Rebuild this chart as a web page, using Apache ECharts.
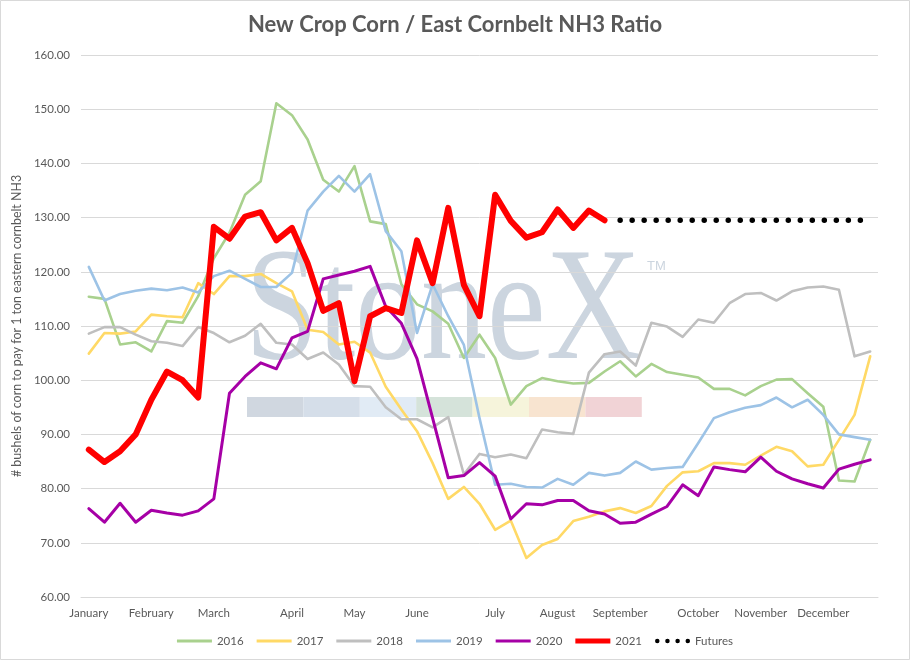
<!DOCTYPE html>
<html>
<head>
<meta charset="utf-8">
<script src="https://cdn.jsdelivr.net/npm/echarts@6/dist/echarts.min.js"></script>
<style>
html,body{margin:0;padding:0;background:#fff;}
#chart{width:910px;height:660px;}
</style>
</head>
<body>
<div id="chart"></div>
<script>
// ---- data (weekly points, 51 per year) ----
const monthLabels = ['January','February','March','April','May','June','July','August','September','October','November','December'];
const monthIndex  = [0, 4, 8, 13, 17, 21, 26, 30, 34, 39, 43, 47];
const weekCount = 51;

const s2016 = [115.4,115.0,106.6,107.0,105.3,110.9,110.6,115.5,122.5,127.2,134.2,136.7,151.1,148.9,144.4,137.0,134.8,139.5,129.3,128.8,117.7,114.0,112.7,110.4,104.1,108.4,104.1,95.5,98.9,100.4,99.8,99.4,99.5,101.6,103.5,100.7,103.0,101.5,101.0,100.5,98.4,98.4,97.2,98.9,100.1,100.2,97.6,95.1,81.5,81.3,89.0];
const s2017 = [104.9,108.7,108.6,109.0,112.1,111.8,111.6,117.9,115.9,119.2,119.2,119.6,117.9,116.4,109.3,108.9,106.6,107.1,105.1,98.8,94.6,90.6,84.7,78.1,80.3,77.2,72.4,74.1,67.2,69.6,70.7,74.0,74.8,75.8,76.4,75.5,76.8,80.5,83.0,83.2,84.7,84.7,84.4,86.1,87.7,86.9,84.1,84.4,89.0,93.6,104.4];
const s2018 = [108.6,109.8,109.8,108.4,107.2,106.9,106.3,109.8,108.7,107.0,108.2,110.4,106.9,106.6,103.9,105.1,102.9,98.9,98.8,95.0,92.8,92.8,91.3,93.2,82.6,86.4,85.8,86.3,85.6,90.9,90.4,90.1,101.4,104.8,105.3,102.7,110.6,109.9,108.0,111.2,110.6,114.2,115.9,116.1,114.7,116.4,117.1,117.3,116.7,104.4,105.3];
const s2019 = [120.9,114.7,115.9,116.5,116.9,116.6,117.1,116.2,119.2,120.2,118.7,117.2,117.2,119.8,131.3,134.8,137.7,134.8,138.0,127.5,123.8,108.7,117.7,111.8,106.5,93.0,80.7,80.9,80.3,80.2,81.8,80.7,82.9,82.4,82.9,85.0,83.5,83.8,84.0,88.4,93.0,94.1,94.9,95.4,96.8,95.0,96.4,93.6,90.0,89.5,89.0];
const s2020 = [76.3,73.8,77.3,73.8,76.0,75.5,75.1,75.9,78.1,97.6,100.7,103.2,102.1,107.8,109.0,118.7,119.4,120.1,121.0,113.6,110.5,104.0,93.0,82.0,82.4,84.8,82.3,74.4,77.2,77.0,77.8,77.8,75.9,75.3,73.6,73.8,75.3,76.7,80.7,78.7,84.0,83.5,83.1,85.8,83.2,81.8,80.9,80.1,83.6,84.5,85.3];
const s2021 = [87.2,84.9,86.9,90.0,96.4,101.6,100.0,96.8,128.3,126.1,130.2,131.0,125.8,128.1,121.6,112.8,114.2,99.8,111.8,113.3,112.4,125.8,117.9,131.8,117.6,111.8,134.2,129.4,126.3,127.3,131.5,128.1,131.3,129.5];
const futuresStart = 34;
const futures = [129.5,129.5,129.5,129.5,129.5,129.5,129.5,129.5,129.5,129.5,129.5,129.5,129.5,129.5,129.5,129.5,129.5];

const yTicks = {min: 60, max: 160, step: 10};

// ---- build ----
const categories = [];
for (let i = 0; i < weekCount; i++) categories.push('');
monthIndex.forEach((ix, k) => { categories[ix] = monthLabels[k]; });
const futuresData = [];
for (let i = 0; i < futuresStart; i++) futuresData.push(null);
futures.forEach(v => futuresData.push(v));

const FONT = 'Lato, "Open Sans", sans-serif';
const TXT = '#595959';

function lineSeries(name, data, color, width, extra) {
  return Object.assign({
    name: name, type: 'line', data: data, symbol: 'none', smooth: false,
    connectNulls: false,
    lineStyle: {color: color, width: width, join: 'round', cap: 'round'},
    itemStyle: {color: color},
    emphasis: {disabled: true},
    animation: false
  }, extra || {});
}

const thinIcon = 'path://M0,0L35,0L35,3L0,3Z';
const thickIcon = 'path://M0,0L35,0L35,5L0,5Z';
const dotsIcon = 'path://M0,2a2,2 0 1,0 4,0a2,2 0 1,0 -4,0Z M9,2a2,2 0 1,0 4,0a2,2 0 1,0 -4,0Z M18,2a2,2 0 1,0 4,0a2,2 0 1,0 -4,0Z M27,2a2,2 0 1,0 4,0a2,2 0 1,0 -4,0Z';

const stripColors = ['#d0d7e0','#d5dee9','#e1ebf5','#d5e3da','#f6f4db','#f8e4d0','#f1d3d6'];
const graphics = [
  {type:'rect', z:-10, shape:{x:0.5,y:0.5,width:909,height:659}, style:{fill:'none', stroke:'#d9d9d9', lineWidth:1}},
  {type:'text', z:-5, x:245, y:316, scaleX:0.82, scaleY:1,
   style:{text:'StoneX', font:'161px "Liberation Serif", "DejaVu Serif", serif', fill:'#ccd5df', verticalAlign:'middle', align:'left'}},
  {type:'text', z:-5, x:647, y:266,
   style:{text:'TM', font:'13px "Liberation Sans", sans-serif', fill:'#ccd5df', verticalAlign:'middle', align:'left'}}
];
stripColors.forEach((c, k) => {
  graphics.push({type:'rect', z:-5, shape:{x:247 + k*56.4, y:397, width:56.4, height:20}, style:{fill:c}});
});

const chart = echarts.init(document.getElementById('chart'), null, {renderer:'canvas'});
chart.setOption({
  backgroundColor: '#ffffff',
  animation: false,
  title: {
    text: 'New Crop Corn / East Cornbelt NH3 Ratio',
    left: 'center', top: 9,
    textStyle: {fontFamily: FONT, fontWeight: 'bold', fontSize: 22, color: TXT}
  },
  graphic: graphics,
  grid: {left: 81, right: 32, top: 55, bottom: 63, containLabel: false},
  xAxis: {
    type: 'category', data: categories, boundaryGap: true,
    axisLine: {show: true, lineStyle: {color: '#d9d9d9', width: 1}},
    axisTick: {show: false},
    axisLabel: {interval: 0, color: TXT, fontFamily: FONT, fontSize: 11.5, margin: 10},
    splitLine: {show: false}
  },
  yAxis: {
    type: 'value', min: yTicks.min, max: yTicks.max, interval: yTicks.step,
    name: '# bushels of corn to pay for 1 ton eastern cornbelt NH3',
    nameLocation: 'middle', nameGap: 46, nameRotate: 90,
    nameTextStyle: {color: TXT, fontFamily: FONT, fontSize: 12.4},
    axisLine: {show: false}, axisTick: {show: false},
    axisLabel: {color: TXT, fontFamily: FONT, fontSize: 11.5, margin: 11, formatter: v => v.toFixed(2)},
    splitLine: {show: true, lineStyle: {color: '#d9d9d9', width: 1}}
  },
  legend: {
    top: 630, left: 'center', itemWidth: 35, itemHeight: 10, itemGap: 13,
    symbolKeepAspect: true,
    itemStyle: {borderWidth: 0},
    textStyle: {color: TXT, fontFamily: FONT, fontSize: 11.5},
    data: [
      {name:'2016', icon: thinIcon},
      {name:'2017', icon: thinIcon},
      {name:'2018', icon: thinIcon},
      {name:'2019', icon: thinIcon},
      {name:'2020', icon: thinIcon},
      {name:'2021', icon: thickIcon},
      {name:'Futures', icon: dotsIcon}
    ]
  },
  series: [
    lineSeries('2016', s2016, '#a9d18e', 2.6),
    lineSeries('2017', s2017, '#ffd966', 2.6),
    lineSeries('2018', s2018, '#bfbfbf', 2.6),
    lineSeries('2019', s2019, '#9dc3e6', 2.6),
    lineSeries('2020', s2020, '#a600a6', 3),
    lineSeries('2021', s2021, '#ff0000', 6),
    lineSeries('Futures', futuresData, '#000000', 5.5, {
      lineStyle: {color: '#000000', width: 5.5, type: [0.01, 12], cap: 'round'}
    })
  ]
});
</script>
</body>
</html>
